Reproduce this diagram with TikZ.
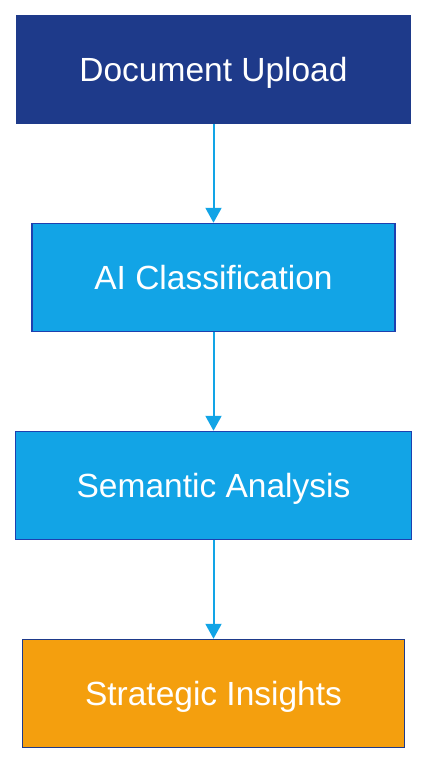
\documentclass[tikz,border=0pt]{standalone}
\usepackage{fontspec}
\setmainfont{Liberation Sans}
\usetikzlibrary{arrows.meta}
\definecolor{navy}{HTML}{1E3A8A}
\definecolor{sky}{HTML}{12A4E6}
\definecolor{skyline}{HTML}{1E40AF}
\definecolor{amber}{HTML}{F49F0E}
\begin{document}
\begin{tikzpicture}[x=1pt,y=-1pt,
  box/.style={draw, line width=1.5pt, minimum height=108pt, inner sep=0pt,
    text height=23pt, text depth=0pt,
    text=white, font=\fontsize{33.5}{36}\selectfont},
  link/.style={draw=sky, line width=2pt, -{Triangle[length=15pt,width=16pt]}}]
\useasboundingbox (0,0) rectangle (428,764);
\node[box, fill=navy, draw=navy, minimum width=394pt] (up) at (213.5,69.5) {Document Upload};
\node[box, fill=sky, draw=skyline, minimum width=363pt] (ai) at (213.5,277.5) {AI Classification};
\node[box, fill=sky, draw=skyline, minimum width=396pt] (sa) at (213.5,485.5) {Semantic Analysis};
\node[box, fill=amber, draw=navy, minimum width=382pt] (si) at (213.5,693.5) {Strategic Insights};
\draw[link] (up) -- (ai);
\draw[link] (ai) -- (sa);
\draw[link] (sa) -- (si);
\end{tikzpicture}
\end{document}
